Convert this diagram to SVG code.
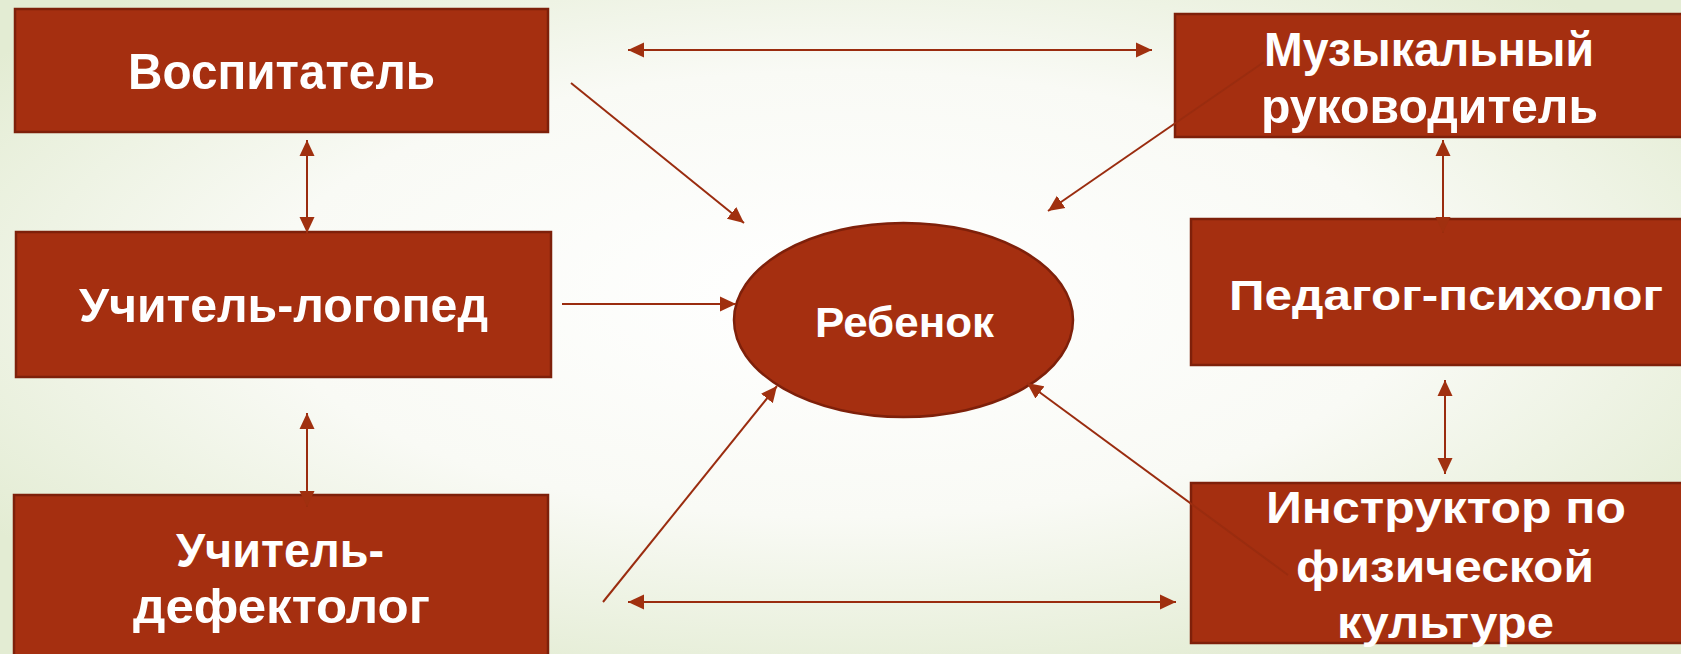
<svg xmlns="http://www.w3.org/2000/svg" width="1681" height="654" viewBox="0 0 1681 654">
  <defs>
    <radialGradient id="bg" cx="0.5" cy="0.45" r="0.62">
      <stop offset="0" stop-color="#FFFFFF"/>
      <stop offset="0.55" stop-color="#F9FAF5"/>
      <stop offset="1" stop-color="#E3ECD3"/>
    </radialGradient>
    <marker id="ah" viewBox="0 0 16 16" markerWidth="16" markerHeight="16" refX="16" refY="8" orient="auto-start-reverse" markerUnits="userSpaceOnUse">
      <path d="M0,0.5 L16,8 L0,15.5 z" fill="#A0300F"/>
    </marker>
    <style>
      .box { fill: #A52F10; stroke: #7E200A; stroke-width: 2.5; }
      .lbl { font-family: "Liberation Sans", Arial, sans-serif; font-weight: 700; fill: #FFFFFF; text-anchor: middle; }
      .c { stroke: #9A2C0F; stroke-width: 2; fill: none; }
      .one { marker-end: url(#ah); }
      .two { marker-start: url(#ah); marker-end: url(#ah); }
    </style>
  </defs>
  <rect x="0" y="0" width="1681" height="654" fill="url(#bg)"/>

  <g id="node-vospitatel">
    <rect class="box" x="15" y="9" width="533" height="123"/>
    <text class="lbl" x="281.5" y="89" font-size="50" textLength="307" lengthAdjust="spacingAndGlyphs">Воспитатель</text>
  </g>
  <g id="node-logoped">
    <rect class="box" x="16" y="232" width="535" height="145"/>
    <text class="lbl" x="283.5" y="322" font-size="49" textLength="409" lengthAdjust="spacingAndGlyphs">Учитель-логопед</text>
  </g>
  <g id="node-defektolog">
    <rect class="box" x="14" y="495" width="534" height="175"/>
    <text class="lbl" x="280" y="567" font-size="48" textLength="208" lengthAdjust="spacingAndGlyphs">Учитель-</text>
    <text class="lbl" x="281.5" y="623" font-size="48" textLength="297" lengthAdjust="spacingAndGlyphs">дефектолог</text>
  </g>
  <g id="node-muz">
    <rect class="box" x="1175" y="14" width="520" height="123"/>
    <text class="lbl" x="1429" y="66" font-size="48" textLength="330" lengthAdjust="spacingAndGlyphs">Музыкальный</text>
    <text class="lbl" x="1429.5" y="123" font-size="48" textLength="337" lengthAdjust="spacingAndGlyphs">руководитель</text>
  </g>
  <g id="node-psiholog">
    <rect class="box" x="1191" y="219" width="500" height="146"/>
    <text class="lbl" x="1446" y="310" font-size="43" textLength="434" lengthAdjust="spacingAndGlyphs">Педагог-психолог</text>
  </g>
  <g id="node-instruktor">
    <rect class="box" x="1191" y="483" width="500" height="160"/>
    <text class="lbl" x="1446" y="523" font-size="44" textLength="360" lengthAdjust="spacingAndGlyphs">Инструктор по</text>
    <text class="lbl" x="1445" y="582" font-size="44" textLength="298" lengthAdjust="spacingAndGlyphs">физической</text>
    <text class="lbl" x="1445.5" y="638" font-size="44" textLength="217" lengthAdjust="spacingAndGlyphs">культуре</text>
  </g>
  <g id="node-rebenok">
    <ellipse class="box" cx="903.5" cy="320" rx="169.5" ry="97"/>
    <text class="lbl" x="904.5" y="337" font-size="42" textLength="179" lengthAdjust="spacingAndGlyphs">Ребенок</text>
  </g>

  <g id="connectors">
    <line class="c two" x1="628" y1="50" x2="1152" y2="50"/>
    <line class="c one" x1="571" y1="83" x2="744" y2="223"/>
    <line class="c two" x1="307" y1="140" x2="307" y2="233"/>
    <line class="c one" x1="562" y1="304" x2="736" y2="304"/>
    <line class="c two" x1="307" y1="413" x2="307" y2="507"/>
    <line class="c one" x1="603" y1="602" x2="777" y2="386"/>
    <line class="c two" x1="628" y1="602" x2="1176" y2="602"/>
    <line class="c one" x1="1264" y1="62" x2="1048" y2="211"/>
    <line class="c two" x1="1443" y1="140" x2="1443" y2="233"/>
    <line class="c two" x1="1445" y1="380" x2="1445" y2="474"/>
    <line class="c one" x1="1288" y1="575" x2="1027" y2="383"/>
  </g>
</svg>
